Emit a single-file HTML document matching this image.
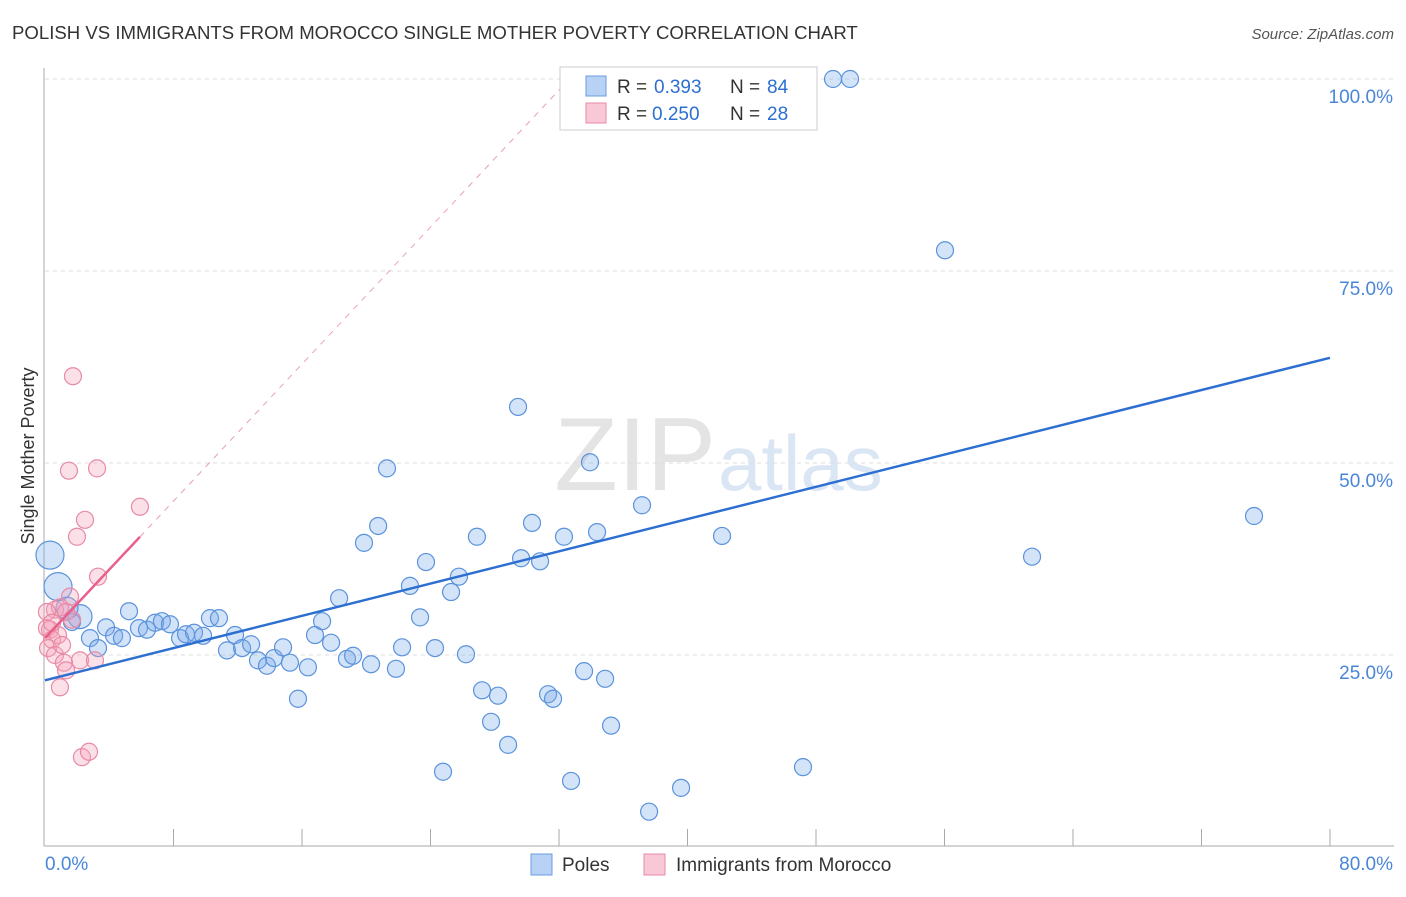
<!DOCTYPE html>
<html><head><meta charset="utf-8"><style>
body{margin:0;background:#fff;font-family:"Liberation Sans",sans-serif}
svg text{font-family:"Liberation Sans",sans-serif}
</style></head><body>
<svg width="1406" height="892">
<text x="12" y="39" font-size="18.6" fill="#333">POLISH VS IMMIGRANTS FROM MOROCCO SINGLE MOTHER POVERTY CORRELATION CHART</text>
<text x="1394" y="39" font-size="15" fill="#555" text-anchor="end" font-style="italic">Source: ZipAtlas.com</text>
<text x="716" y="490" font-size="104" fill="#e4e4e4" text-anchor="end" font-family="Liberation Serif">ZIP</text>
<text x="718" y="490" font-size="78" fill="#dbe6f5">atlas</text>
<g id="grid"></g><g id="axes"></g><g id="marks"></g>
<text x="34" y="456" font-size="18" fill="#333" transform="rotate(-90 34 456)" text-anchor="middle">Single Mother Poverty</text>
<g>
<rect x="560" y="67" width="257" height="63" fill="#fff" stroke="#ccc"/>
<rect x="586" y="76" width="20" height="20" fill="#b8d2f5" stroke="#6a9be0"/>
<rect x="586" y="103" width="20" height="20" fill="#f9c8d6" stroke="#e88aa6"/>
<text x="617" y="93" font-size="19" fill="#333">R =</text><text x="654" y="93" font-size="19" fill="#2d6fd1">0.393</text>
<text x="730" y="93" font-size="19" fill="#333">N =</text><text x="767" y="93" font-size="19" fill="#2d6fd1">84</text>
<text x="617" y="120" font-size="19" fill="#333">R =</text><text x="652" y="120" font-size="19" fill="#2d6fd1">0.250</text>
<text x="730" y="120" font-size="19" fill="#333">N =</text><text x="767" y="120" font-size="19" fill="#2d6fd1">28</text>
</g>
<g>
<rect x="531" y="854" width="21" height="21" fill="#b8d2f5" stroke="#6a9be0"/>
<text x="562" y="871" font-size="19" fill="#333">Poles</text>
<rect x="644" y="854" width="21" height="21" fill="#f9c8d6" stroke="#e88aa6"/>
<text x="676" y="871" font-size="19" fill="#333">Immigrants from Morocco</text>
</g>
</svg>
<script>
const xTicks=[0,8,16,24,32,40,48,56,64,72,80];
const yTicks=[25,50,75,100];
const polesX=[0.31,0.81,2.18,1.37,1.68,2.80,3.30,3.80,4.30,4.79,5.23,5.85,6.35,6.85,7.28,7.78,8.41,8.78,9.28,9.84,10.27,10.83,11.33,11.83,12.27,12.83,13.26,13.82,14.26,14.82,15.25,15.75,16.37,16.81,17.25,17.81,18.31,18.80,19.18,19.86,20.30,20.74,21.29,21.85,22.23,22.72,23.35,23.72,24.28,24.78,25.28,25.77,26.21,26.89,27.21,27.77,28.20,28.83,29.45,29.64,30.32,30.82,31.32,31.63,32.31,32.75,33.56,33.93,34.37,34.87,35.24,37.17,37.61,39.60,42.15,47.19,49.06,50.12,56.03,61.45,75.27,36.05,43.21];
const polesY=[38.0,33.9,30.0,31.1,29.3,27.2,25.9,28.6,27.5,27.2,30.7,28.5,28.3,29.2,29.4,29.0,27.2,27.7,27.9,27.5,29.8,29.8,25.6,27.6,25.9,26.4,24.3,23.6,24.6,26.0,24.0,19.3,23.4,27.6,29.4,26.6,32.4,24.5,24.9,39.6,23.8,41.8,49.3,23.2,26.0,34.0,29.9,37.1,25.9,9.8,33.2,35.2,25.1,40.4,20.4,16.3,19.7,13.3,57.3,37.6,42.2,37.2,19.9,19.3,40.4,8.6,22.9,50.1,41.0,21.9,15.8,44.5,4.6,7.7,40.5,10.4,100,100,77.7,37.8,43.1,100,100];
const polesBig=[14,14,12,11];
const morX=[1.74,1.49,3.24,5.91,2.49,1.99,3.30,1.56,0.62,0.93,1.31,0.31,0.12,0.44,0.81,0.19,0.62,1.06,1.68,2.18,1.18,3.11,0.93,1.31,2.30,2.74,0.12,0.44];
const morY=[61.3,49.0,49.3,44.3,42.6,40.4,35.2,32.6,30.9,31.2,30.6,28.3,28.5,27.0,27.6,25.9,25.0,26.3,29.6,24.3,24.0,24.3,20.8,23.0,11.7,12.4,30.6,29.2];
const polesLine=[21.7,63.7];
const morLine=[27.2,2.23];
const NS='http://www.w3.org/2000/svg';
const sx=v=>45+v/80*1285, sy=v=>847-v/100*768;
function mk(t,a,p){const e=document.createElementNS(NS,t);for(const k in a)e.setAttribute(k,a[k]);if(p)p.appendChild(e);return e;}
const gridG=document.getElementById('grid'),axesG=document.getElementById('axes'),marksG=document.getElementById('marks');
yTicks.forEach(v=>{
 const l=mk('line',{x1:45,x2:1394,y1:sy(v),y2:sy(v),stroke:'#ddd','stroke-dasharray':'4,4'},gridG);
 
 
 const t=mk('text',{x:1393,y:sy(v)+24,'font-size':19,fill:'#4a86d8','text-anchor':'end'},axesG);t.textContent=v.toFixed(1)+'%';
 
 
});
mk('line',{x1:44,x2:44,y1:68,y2:846,stroke:'#aaa'},axesG);
const xa=mk('line',{x1:44,x2:1394,y1:846,y2:846,stroke:'#aaa'},axesG);


xTicks.forEach(v=>{if(v>0)mk('line',{x1:sx(v),x2:sx(v),y1:829,y2:846,stroke:'#aaa'},axesG);});
[[0,'start',45],[80,'end',1393]].forEach(([v,a,x])=>{const t=mk('text',{x:x,y:870,'font-size':19,fill:'#4a86d8','text-anchor':a},axesG);t.textContent=v.toFixed(1)+'%';
 
 });
polesX.forEach((x,i)=>{const c=mk('circle',{cx:sx(x),cy:sy(polesY[i]),r:polesBig[i]||8.5,fill:'rgba(120,170,235,0.33)',stroke:'#5b93dc','stroke-width':1.2},marksG);
 
 });
morX.forEach((x,i)=>{const c=mk('circle',{cx:sx(x),cy:sy(morY[i]),r:8.5,fill:'rgba(245,160,185,0.33)',stroke:'#e88aa6','stroke-width':1.2},marksG);
 
 });
const bl=mk('line',{x1:sx(0),y1:sy(polesLine[0]),x2:sx(80),y2:sy(polesLine[1]),stroke:'#2d6fd1','stroke-width':2.5},marksG);


const xe=(100-morLine[0])/morLine[1];
const pd=mk('line',{x1:sx(5.91),y1:sy(morLine[0]+morLine[1]*5.91),x2:sx(xe),y2:sy(100),stroke:'#eaa0b8','stroke-width':1,'stroke-dasharray':'6,6'},marksG);


const pl=mk('line',{x1:sx(0),y1:sy(morLine[0]),x2:sx(5.91),y2:sy(morLine[0]+morLine[1]*5.91),stroke:'#e8608a','stroke-width':2.5},marksG);


</script>
</body></html>
